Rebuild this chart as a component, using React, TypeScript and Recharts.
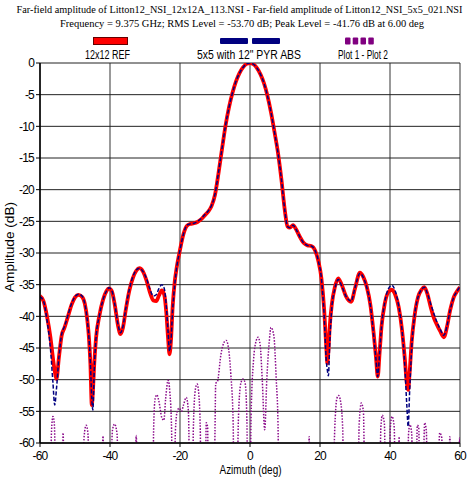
import React from "react";
import { LineChart, Line, XAxis, YAxis, CartesianGrid } from "recharts";

// Azimuth samples (deg) shared by the two measured patterns
const AZ = [
  -60, -59, -58, -57, -56.3, -55.8, -55.3, -54.6, -53.8, -53, -52, -51, -50, -49, -48, -47.2, -46.5, -46, -45.6, -45.2,
  -44.9, -44.5, -44, -43, -42, -41, -40.3, -39.5, -38.6, -37.7, -37, -36.3, -35.5, -34.5, -33.5, -32.5, -31.6, -30.6,
  -29.6, -28.6, -27.6, -26.8, -26, -25.2, -24.5, -23.9, -23.4, -23, -22.6, -22.1, -21.5, -21, -20, -19, -18, -17, -16,
  -15, -14, -13, -12, -11, -10, -9, -8, -7, -6, -5, -4, -3, -2, -1, 0, 1, 2, 3, 4, 5, 6, 7, 8, 9, 10, 10.7, 11.4, 12.3,
  13.2, 14.2, 15.3, 16.4, 17.5, 18.6, 19.5, 20.4, 21.2, 21.8, 22.1, 22.4, 22.8, 23.4, 24.2, 25.2, 26.2, 27.4, 28.9, 30,
  31.4, 32.4, 33.4, 34.4, 35.3, 36, 36.5, 37, 37.6, 38.5, 39.5, 40.5, 41.5, 42.5, 43.4, 44.2, 44.8, 45.2, 45.6, 46.2, 47,
  48, 49, 49.8, 50.7, 51.6, 52.5, 53.4, 54.3, 55.4, 56.3, 57.2, 58.2, 59.2, 60,
];

// 12x12 REF amplitude (dB)
const REF = [
  -36.8, -37.6, -40.0, -43.4, -46.6, -48.6, -49.9, -46.5, -43.0, -41.8, -40.0, -38.2, -37.0, -36.6, -36.9, -38.0, -40.5,
  -43.5, -47.5, -54.0, -52.0, -47.5, -43.5, -39.8, -37.4, -36.0, -35.6, -36.0, -38.3, -41.5, -42.8, -41.8, -39.0, -36.0,
  -34.0, -32.8, -32.4, -32.9, -34.3, -36.2, -37.5, -37.6, -36.7, -35.9, -36.6, -39.5, -43.5, -46.0, -44.0, -38.5, -34.5,
  -32.5, -29.5, -27.0, -25.7, -25.4, -25.3, -25.1, -24.7, -24.1, -23.5, -22.6, -20.8, -17.4, -13.6, -9.9, -7.0, -4.7,
  -2.9, -1.6, -0.7, -0.15, 0, -0.2, -0.8, -1.8, -3.2, -5.2, -7.8, -10.9, -14.2, -18.5, -23.5, -25.8, -26.0, -25.6, -26.3,
  -27.4, -28.4, -28.8, -28.9, -29.6, -31.2, -34.0, -39.0, -45.0, -47.4, -45.5, -41.5, -38.0, -35.5, -34.0, -35.0, -36.8,
  -37.7, -35.6, -33.1, -33.8, -35.4, -38.2, -42.5, -46.5, -49.5, -46.0, -41.5, -38.0, -36.2, -35.8, -36.6, -38.6, -42.0,
  -46.5, -50.5, -51.6, -49.0, -44.0, -40.0, -37.0, -35.8, -35.4, -36.5, -38.5, -40.2, -41.3, -42.3, -43.3, -41.6, -39.0,
  -37.0, -36.0, -35.4,
];

// 5x5 with 12" PYR ABS amplitude (dB)
const PYR = [
  -36.9, -37.6, -40.6, -45.2, -50.5, -54.0, -51.5, -46.5, -42.8, -41.6, -39.8, -38.0, -36.9, -36.5, -36.8, -38.0, -40.5,
  -43.5, -47.5, -53.0, -54.8, -48.5, -43.5, -39.8, -37.4, -36.0, -35.5, -35.9, -38.2, -41.3, -42.6, -41.6, -38.8, -35.8,
  -33.8, -32.7, -32.4, -32.9, -34.0, -35.7, -36.8, -36.6, -35.6, -35.0, -35.6, -38.5, -42.5, -45.5, -44.0, -39.0, -35.0,
  -32.5, -29.5, -27.0, -25.6, -25.4, -25.3, -25.0, -24.6, -24.0, -23.4, -22.5, -20.7, -17.3, -13.5, -9.9, -7.0, -4.7,
  -2.9, -1.6, -0.7, -0.15, 0, -0.2, -0.8, -1.8, -3.2, -5.2, -7.8, -10.9, -14.2, -18.5, -23.5, -25.8, -26.0, -25.6, -26.3,
  -27.4, -28.4, -28.8, -28.9, -29.6, -31.2, -34.0, -40.0, -47.0, -48.5, -49.4, -44.0, -38.5, -35.8, -34.2, -35.2, -36.8,
  -37.6, -35.5, -33.2, -33.9, -35.5, -38.3, -42.8, -46.8, -49.5, -46.0, -41.5, -37.8, -35.7, -35.1, -36.0, -38.4, -42.0,
  -47.5, -54.0, -57.4, -52.0, -45.0, -40.0, -37.0, -35.8, -35.4, -36.4, -38.0, -39.5, -40.9, -42.0, -43.0, -41.5, -39.0,
  -37.0, -36.0, -35.3,
];

// Difference pattern (Plot 1 - Plot 2), dB; values below the floor fall outside the plot
const DIFF_AZ = [
  -60, -57.2, -56.7, -56.3, -55.9, -55.4, -53.8, -53.4, -53, -48, -47.4, -46.8, -46.3, -45.8, -42.4, -42, -41.6, -40,
  -39.3, -38.7, -38, -37.4, -33, -32.5, -32, -27.9, -27.5, -27.1, -26.6, -26, -25.2, -24.6, -24.1, -23.4, -22.9, -22.4,
  -22.2, -21.8, -21.3, -20.8, -20.2, -19.6, -19, -18.2, -17.6, -17.1, -16.4, -16.2, -15.6, -15.1, -14.6, -14.2, -14,
  -12.8, -12.5, -12.1, -11.9, -10.3, -10, -9.8, -9.3, -8.3, -7.3, -6.8, -6.3, -5.5, -4.8, -4.6, -3.8, -3.3, -2.6, -2,
  -1.4, -0.9, -0.6, 0, 0.3, 1, 1.8, 2.3, 2.9, 3.5, 4.2, 4.8, 5.5, 6, 6.8, 7.5, 8, 8.3, 16.6, 16.9, 17.2, 23.6, 24.2,
  24.8, 25.3, 25.9, 26.5, 26.8, 30.7, 31.2, 31.8, 32.4, 32.9, 36.9, 37.4, 37.8, 38.4, 38.8, 39.7, 40.1, 40.6, 41.2,
  41.6, 42.3, 42.6, 42.9, 44.9, 45.3, 45.7, 46.2, 46.6, 47.4, 47.8, 48.2, 48.6, 49.3, 49.9, 50.4, 50.7, 53.5, 54.2,
  54.8, 55.1, 56.6, 57.1, 57.6, 59.5, 59.9, 60,
];
const DIFF_DB = [
  -70, -70, -58, -55.8, -57, -70, -70, -58.4, -70, -70, -59, -57.2, -58.5, -70, -70, -58.9, -70, -70, -58, -57, -58.5,
  -70, -70, -58.8, -70, -70, -57, -53, -52.4, -53.5, -56, -56.4, -53, -50.1, -52, -58, -70, -70, -58, -55, -54.5, -55,
  -54, -52.8, -55, -70, -70, -58, -51.5, -50.7, -52.5, -58, -70, -70, -56.8, -57.5, -70, -70, -58, -50.6, -50.3, -46,
  -44, -43.8, -44.5, -49, -57, -70, -70, -56, -50.5, -49.9, -50.5, -56, -70, -70, -56, -47, -43.8, -43.3, -44.5, -50,
  -57.9, -50, -44, -41.76, -43, -50, -57, -70, -70, -59, -70, -70, -58, -53, -52.5, -53.5, -58, -70, -70, -57, -53.7,
  -55, -70, -70, -57.5, -55.6, -57, -70, -70, -57.5, -55.8, -57.5, -70, -70, -59, -70, -70, -58.5, -57.1, -58.5, -70,
  -70, -57.2, -57.5, -70, -70, -56.8, -58.2, -70, -70, -58.4, -59.2, -70, -70, -59, -70, -70, -59.2, -61,
];

const X_TICKS = [-60, -40, -20, 0, 20, 40, 60];
const Y_TICKS = [0, -5, -10, -15, -20, -25, -30, -35, -40, -45, -50, -55, -60];
const X_MINOR = [-55, -50, -45, -35, -30, -25, -15, -10, -5, 5, 10, 15, 25, 30, 35, 45, 50, 55];
const Y_MINOR = Array.from({ length: 59 }, (_, i) => -(i + 1)).filter((v) => v % 5 !== 0);

const TITLE_1 =
  "Far-field amplitude of Litton12_NSI_12x12A_113.NSI - Far-field amplitude of Litton12_NSI_5x5_021.NSI";
const TITLE_2 = "Frequency = 9.375 GHz; RMS Level = -53.70 dB; Peak Level = -41.76 dB at 6.00 deg";
const SERIES_NAMES = ["12x12 REF", '5x5 with 12" PYR ABS', "Plot 1 - Plot 2"];

const refData = AZ.map((az, i) => ({ az, v: REF[i] }));
const pyrData = AZ.map((az, i) => ({ az, v: PYR[i] }));
const diffData = DIFF_AZ.map((az, i) => ({ az, v: DIFF_DB[i] }));

const SANS = "'Liberation Sans', Arial, sans-serif";
const SERIF = "'Liberation Serif', 'Times New Roman', serif";
const tickStyle = { fontSize: 12, fill: "#000", fontFamily: SANS, letterSpacing: -0.8 };
const titleStyle = { fontFamily: SERIF, fontSize: 9.8 };
const subStyle = { fontFamily: SERIF, fontSize: 11 };
const sansStyle = { fontFamily: SANS, fontSize: 12 };

export default function App() {
  return (
    <div style={{ position: "absolute", left: 0, top: 0, width: 469, height: 482, background: "#fff" }}>
      <LineChart width={469} height={482} margin={{ top: 63, right: 9, bottom: 0, left: 0 }}>
        <CartesianGrid horizontal={false} stroke="#777" strokeWidth={1.5} />
        <CartesianGrid vertical={false} stroke="#222" strokeWidth={1} />
        <XAxis
          dataKey="az"
          type="number"
          domain={[-60, 60]}
          ticks={X_TICKS}
          allowDataOverflow
          height={39}
          tickSize={4}
          tickMargin={4}
          tick={tickStyle}
          axisLine={{ stroke: "#000", strokeWidth: 1.5 }}
          tickLine={{ stroke: "#000" }}
        />
        <XAxis
          xAxisId="minor"
          type="number"
          domain={[-60, 60]}
          ticks={X_MINOR}
          mirror
          height={0}
          tick={false}
          tickSize={6}
          axisLine={false}
          tickLine={{ stroke: "#c8c8c8", strokeWidth: 1.5 }}
        />
        <YAxis
          type="number"
          domain={[-60, 0]}
          ticks={Y_TICKS}
          allowDataOverflow
          width={40}
          tickSize={4}
          tickMargin={2}
          tick={tickStyle}
          axisLine={{ stroke: "#000", strokeWidth: 1.5 }}
          tickLine={{ stroke: "#000" }}
        />
        <YAxis
          yAxisId="minor"
          type="number"
          domain={[-60, 0]}
          ticks={Y_MINOR}
          mirror
          width={0}
          tick={false}
          tickSize={5}
          axisLine={false}
          tickLine={{ stroke: "#c8c8c8", strokeWidth: 1.5 }}
        />
        <Line
          data={diffData}
          dataKey="v"
          type="monotone"
          stroke="#8a0a8a"
          strokeWidth={1.5}
          strokeDasharray="1.5 1.5"
          dot={false}
          isAnimationActive={false}
        />
        <Line
          data={refData}
          dataKey="v"
          type="monotone"
          stroke="#ff0000"
          strokeWidth={3.8}
          dot={false}
          isAnimationActive={false}
        />
        <Line
          data={pyrData}
          dataKey="v"
          type="monotone"
          stroke="#000080"
          strokeWidth={1.5}
          strokeDasharray="4 2"
          dot={false}
          isAnimationActive={false}
        />
      </LineChart>
      <svg
        width={469}
        height={482}
        style={{ position: "absolute", left: 0, top: 0, pointerEvents: "none" }}
      >
        <text x={239.5} y={13} textAnchor="middle" style={titleStyle} textLength={446} lengthAdjust="spacingAndGlyphs">
          {TITLE_1}
        </text>
        <text x={242} y={27} textAnchor="middle" style={subStyle} textLength={364} lengthAdjust="spacingAndGlyphs">
          {TITLE_2}
        </text>

        <rect x={93.5} y={37.5} width={34} height={7} fill="#ff0000" stroke="#600" strokeWidth={1} />
        <rect x={220} y={38} width={28} height={6} rx={1} fill="#000080" />
        <rect x={252} y={38} width={28} height={6} rx={1} fill="#000080" />
        {[345, 352.7, 360.5, 368.3].map((x) => (
          <rect key={x} x={x} y={37.5} width={5.5} height={7} rx={1} fill="#800080" />
        ))}
        <text x={107.5} y={59} textAnchor="middle" style={sansStyle} textLength={45} lengthAdjust="spacingAndGlyphs">
          {SERIES_NAMES[0]}
        </text>
        <text x={249} y={59} textAnchor="middle" style={sansStyle} textLength={104} lengthAdjust="spacingAndGlyphs">
          {SERIES_NAMES[1]}
        </text>
        <text x={363} y={59} textAnchor="middle" style={sansStyle} textLength={50} lengthAdjust="spacingAndGlyphs">
          {SERIES_NAMES[2]}
        </text>

        <text x={250.5} y={474} textAnchor="middle" style={sansStyle} textLength={62} lengthAdjust="spacingAndGlyphs">
          Azimuth (deg)
        </text>
        <text
          x={0}
          y={0}
          transform="translate(14 247) rotate(-90)"
          textAnchor="middle"
          style={sansStyle}
          textLength={90}
          lengthAdjust="spacingAndGlyphs"
        >
          Amplitude (dB)
        </text>
      </svg>
    </div>
  );
}
